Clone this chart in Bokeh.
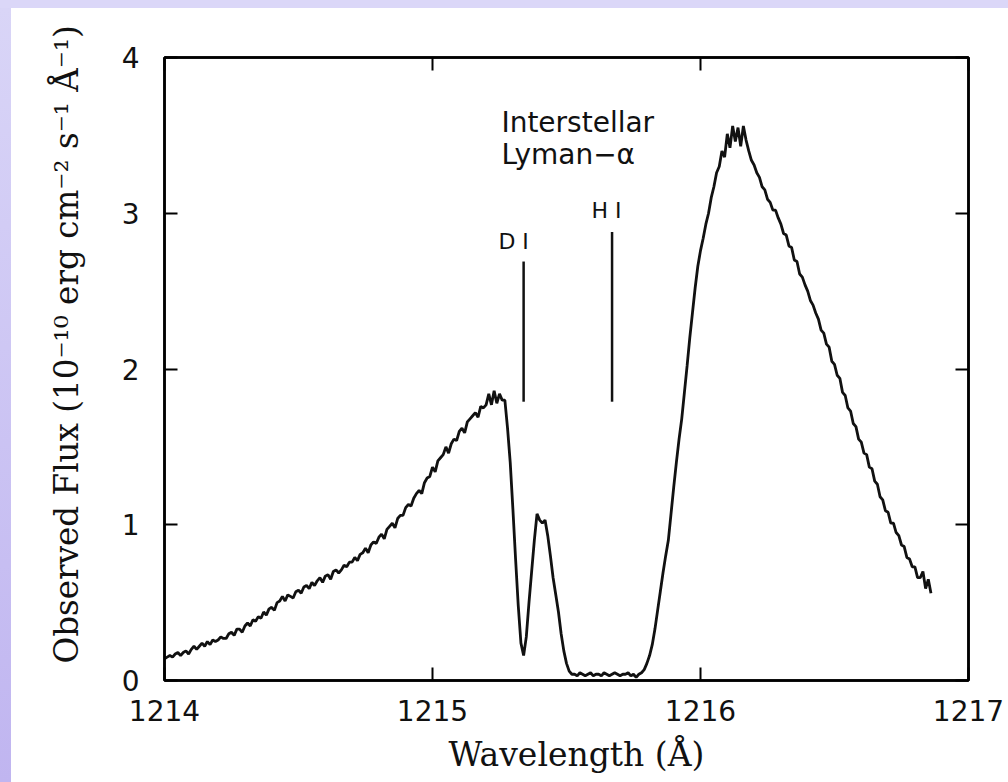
from bokeh.plotting import figure
from bokeh.models import ColumnDataSource, FixedTicker, LinearAxis, Title, Range1d, Spacer
from bokeh.layouts import row, column
from bokeh.core.properties import value
from bokeh.embed import file_html
from bokeh.resources import INLINE

# ---------------- data ----------------
x_ticks = [1214, 1215, 1216, 1217]
y_ticks = [0, 1, 2, 3, 4]

wl_start = 1214.00
wl_step = 0.01

# 1214.00 - 1215.26 (blue wing of the emission line)
flux_blue_wing = [
    0.14, 0.15, 0.16, 0.15, 0.17, 0.18, 0.16, 0.18, 0.19, 0.17,
    0.20, 0.22, 0.20, 0.22, 0.24, 0.22, 0.25, 0.23, 0.26, 0.25,
    0.26, 0.28, 0.27, 0.27, 0.30, 0.31, 0.29, 0.33, 0.33, 0.31,
    0.35, 0.37, 0.35, 0.39, 0.38, 0.41, 0.40, 0.44, 0.42, 0.46,
    0.47, 0.45, 0.50, 0.51, 0.54, 0.51, 0.55, 0.54, 0.53, 0.57,
    0.58, 0.56, 0.60, 0.61, 0.59, 0.63, 0.61, 0.64, 0.66, 0.63,
    0.67, 0.68, 0.65, 0.70, 0.71, 0.69, 0.71, 0.74, 0.73, 0.76,
    0.76, 0.79, 0.77, 0.81, 0.82, 0.85, 0.82, 0.87, 0.89, 0.88,
    0.92, 0.94, 0.91, 0.97, 0.99, 1.01, 0.98, 1.04, 1.06, 1.06,
    1.11, 1.13, 1.12, 1.17, 1.20, 1.22, 1.20, 1.27, 1.30, 1.31,
    1.37, 1.34, 1.41, 1.43, 1.45, 1.50, 1.46, 1.52, 1.55, 1.54,
    1.60, 1.62, 1.59, 1.66, 1.68, 1.70, 1.72, 1.69, 1.76, 1.75,
    1.77, 1.84, 1.77, 1.86, 1.78, 1.84, 1.80,
]
# 1215.27 - 1215.52 (D I absorption and the small peak)
flux_d_absorption = [
    1.80, 1.62, 1.40, 1.10, 0.78, 0.48, 0.24, 0.16,
    0.28, 0.50, 0.70, 0.90, 1.07,
    1.03, 1.01, 1.03, 0.93, 0.80, 0.66, 0.55, 0.44, 0.30, 0.19, 0.11, 0.06, 0.04,
]
# 1215.53 - 1215.78 (saturated H I trough)
flux_h_trough = [
    0.04, 0.03, 0.05, 0.04, 0.03, 0.04, 0.05, 0.03, 0.04, 0.04,
    0.03, 0.05, 0.04, 0.03, 0.04, 0.05, 0.04, 0.03, 0.04, 0.04,
    0.05, 0.03, 0.04, 0.02, 0.04, 0.05,
]
# 1215.79 - 1216.29 (red flank and peak)
flux_red_peak = [
    0.07, 0.11, 0.16, 0.23, 0.33, 0.45, 0.57, 0.69, 0.80, 0.90,
    1.07, 1.24, 1.40, 1.55, 1.68, 1.85, 2.02, 2.20, 2.36, 2.52, 2.66,
    2.76, 2.84, 2.93, 3.00, 3.10, 3.17, 3.26, 3.30, 3.40, 3.36,
    3.51, 3.42, 3.56, 3.46, 3.55, 3.43, 3.56, 3.47, 3.40, 3.34,
    3.31, 3.26, 3.23, 3.17, 3.15, 3.09, 3.07, 3.02, 3.02, 2.97,
]
# 1216.30 - 1216.86 (red wing)
flux_red_wing = [
    2.93, 2.87, 2.86, 2.79, 2.78, 2.70, 2.69, 2.61, 2.59, 2.54,
    2.50, 2.44, 2.41, 2.36, 2.32, 2.25, 2.23, 2.16, 2.14, 2.05,
    2.03, 1.96, 1.94, 1.85, 1.83, 1.75, 1.73, 1.65, 1.63, 1.55,
    1.53, 1.46, 1.45, 1.37, 1.36, 1.28, 1.26, 1.18, 1.16, 1.09,
    1.08, 1.01, 1.01, 0.95, 0.93, 0.87, 0.86, 0.79, 0.78, 0.73,
    0.73, 0.66, 0.66, 0.70, 0.59, 0.65, 0.56,
]

flux = flux_blue_wing + flux_d_absorption + flux_h_trough + flux_red_peak + flux_red_wing
wavelength = [round(wl_start + wl_step * i, 2) for i in range(len(flux))]

# line markers
marker_x = [1215.34, 1215.67]
marker_bottom = [1.79, 1.79]
marker_top = [2.69, 2.88]
marker_labels = ["D I", "H I"]
marker_label_x = [1215.246, 1215.593]
marker_label_y = [2.82, 3.02]

note_lines = ["Interstellar", "Lyman\u2212\u03b1"]
note_x = [1215.257, 1215.257]
note_y = [3.58, 3.38]

# ---------------- figure ----------------
p = figure(width=997, height=774, output_backend="svg", toolbar_location=None,
           x_range=Range1d(1214, 1217), y_range=Range1d(0, 4),
           min_border_left=153, min_border_right=40, min_border_top=49, min_border_bottom=100)
p.background_fill_color = "white"
p.border_fill_color = "white"
p.outline_line_color = "black"
p.outline_line_width = 2.5
p.grid.visible = False


def style_axis(ax, ticks, show_labels, standoff):
    ax.ticker = FixedTicker(ticks=ticks)
    ax.major_tick_in = 13
    ax.major_tick_out = 0
    ax.minor_tick_line_color = None
    ax.major_tick_line_width = 2
    ax.major_tick_line_color = "black"
    ax.axis_line_color = "black"
    ax.axis_line_width = 2.5
    ax.major_label_standoff = standoff
    if show_labels:
        ax.major_label_text_font = "DejaVu Sans"
        ax.major_label_text_font_size = "28px"
        ax.major_label_text_color = "#111111"
    else:
        ax.major_label_text_font_size = "0px"
        ax.major_label_text_color = None


style_axis(p.xaxis[0], x_ticks, True, 19)
style_axis(p.yaxis[0], y_ticks, True, 25)

top_ax = LinearAxis()
style_axis(top_ax, x_ticks, False, 0)
p.add_layout(top_ax, "above")
right_ax = LinearAxis()
style_axis(right_ax, y_ticks, False, 0)
p.add_layout(right_ax, "right")

# axis titles
y_title = Title(text="Observed Flux (10\u207b\u00b9\u2070 erg cm\u207b\u00b2 s\u207b\u00b9 \u00c5\u207b\u00b9)",
                align="left", offset=17, standoff=66,
                text_font="DejaVu Serif", text_font_size="32.6px", text_font_style="normal",
                text_color="#111111")
p.add_layout(y_title, "left")
x_title = Title(text="Wavelength (\u00c5)", align="left", offset=284, standoff=18,
                text_font="DejaVu Serif", text_font_size="33px", text_font_style="normal",
                text_color="#111111")
p.add_layout(x_title, "below")

# spectrum
src = ColumnDataSource(data=dict(x=wavelength, y=flux))
p.line("x", "y", source=src, line_color="#111111", line_width=2.8)

# markers
msrc = ColumnDataSource(data=dict(x=marker_x, y0=marker_bottom, y1=marker_top,
                                  lx=marker_label_x, ly=marker_label_y, t=marker_labels))
p.segment(x0="x", y0="y0", x1="x", y1="y1", source=msrc, line_color="#111111", line_width=2.5)
p.text(x="lx", y="ly", text="t", source=msrc, text_font=value("DejaVu Sans"),
       text_font_size="22px", text_color="#111111", text_align="left", text_baseline="alphabetic")

nsrc = ColumnDataSource(data=dict(x=note_x, y=note_y, t=note_lines))
p.text(x="x", y="y", text="t", source=nsrc, text_font=value("DejaVu Sans"),
       text_font_size="28px", text_color="#111111", text_align="left", text_baseline="alphabetic")

# lavender page edges of the original slide
top_strip = Spacer(width=1008, height=8, styles={"background-color": "#dbd7f8"})
left_strip = Spacer(width=11, height=774,
                    styles={"background": "linear-gradient(to bottom, #d9d5f7, #c0b5f0)"})
layout = column(top_strip, row(left_strip, p, spacing=0), spacing=0)

open("out.html", "w").write(file_html(layout, INLINE))
